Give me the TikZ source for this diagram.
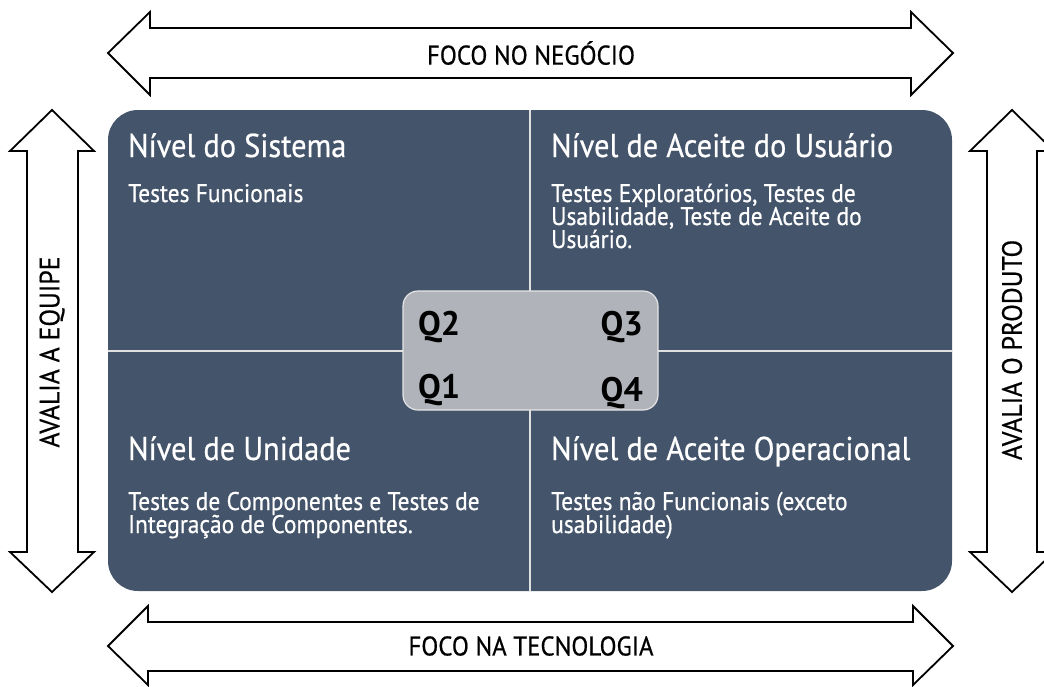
\documentclass[tikz,border=0pt]{standalone}
\usepackage{fontspec}
\setmainfont{PT Sans}
\newfontfamily\medfont[FakeBold=0.6]{PT Sans}
\newfontfamily\narfont[FakeBold=0.6,FakeStretch=0.92]{PT Sans}
\begin{document}
\begin{tikzpicture}[x=1pt,y=-1pt,
  bigarrow/.style={draw=black,line width=1.8pt,fill=white,line join=miter},
  head/.style={text=white,font=\narfont\fontsize{33}{36}\selectfont,anchor=base west,inner sep=0pt},
  body/.style={text=white,font=\narfont\fontsize{25.5}{26}\selectfont,anchor=base west,inner sep=0pt},
  lab/.style={text=black,font=\narfont\fontsize{27}{29}\selectfont,inner sep=0pt},
  qlab/.style={text=black,font=\bfseries\fontsize{34}{38}\selectfont,inner sep=0pt},
  divider/.style={draw=white!88!black,line width=1.2pt}]
\definecolor{panel}{HTML}{44546A}
\definecolor{qbox}{HTML}{B0B3BA}
\useasboundingbox (0,0) rectangle (1044,686);
% horizontal arrows
\draw[bigarrow] (108,53)--(150,12)--(150,28)--(911,28)--(911,12)--(953,53)--(911,95)--(911,78)--(150,78)--(150,95)--cycle;
\draw[bigarrow] (108,646)--(148,606)--(148,622)--(913,622)--(913,606)--(953,646)--(913,685)--(913,671)--(148,671)--(148,685)--cycle;
% vertical arrows
\draw[bigarrow] (52,110)--(94,151)--(78,151)--(78,552)--(94,552)--(52,592)--(10,552)--(27,552)--(27,151)--(10,151)--cycle;
\draw[bigarrow] (1012,110)--(1054,151)--(1037,151)--(1037,552)--(1054,552)--(1012,592)--(970,552)--(987,552)--(987,151)--(970,151)--cycle;
% labels of arrows
\node[lab] (tl) at (531,53) {FOCO NO NEGÓCIO};
\node[lab] (bl) at (531,646) {FOCO NA TECNOLOGIA};
\node[lab,rotate=90,font=\narfont\fontsize{28}{30}\selectfont] (ll) at (52,352) {AVALIA A EQUIPE};
\node[lab,rotate=90,font=\narfont\fontsize{28}{30}\selectfont] (rl) at (1012,350) {AVALIA O PRODUTO};
% panel
\fill[panel,rounded corners=30pt] (108,110) rectangle (952,591);
\draw[divider] (530,110) -- (530,591);
\draw[divider] (108,351) -- (952,351);
% texts
\node[head] (h1) at (128,157) {Nível do Sistema};
\node[body] (b1) at (128,202) {Testes Funcionais};
\node[head] (h2) at (551,157) {Nível de Aceite do Usuário};
\node[body] (b2a) at (551,202) {Testes Exploratórios, Testes de};
\node[body] (b2b) at (551,225) {Usabilidade, Teste de Aceite do};
\node[body] (b2c) at (551,248) {Usuário.};
\node[head] (h3) at (128,460) {Nível de Unidade};
\node[body] (b3a) at (128,510) {Testes de Componentes e Testes de};
\node[body] (b3b) at (128,533) {Integração de Componentes.};
\node[head] (h4) at (551,460) {Nível de Aceite Operacional};
\node[body] (b4a) at (551,510) {Testes não Funcionais (exceto};
\node[body] (b4b) at (551,533) {usabilidade)};
% center box
\draw[fill=qbox,draw=white!90!black,line width=1.2pt,rounded corners=15pt] (403,291) rectangle (658,410);
\node[qlab,anchor=base west] (q2) at (418,335) {Q2};
\node[qlab,anchor=base east] (q3) at (643,335) {Q3};
\node[qlab,anchor=base west] (q1) at (418,398) {Q1};
\node[qlab,anchor=base east] (q4) at (643,401) {Q4};
\end{tikzpicture}
\end{document}
